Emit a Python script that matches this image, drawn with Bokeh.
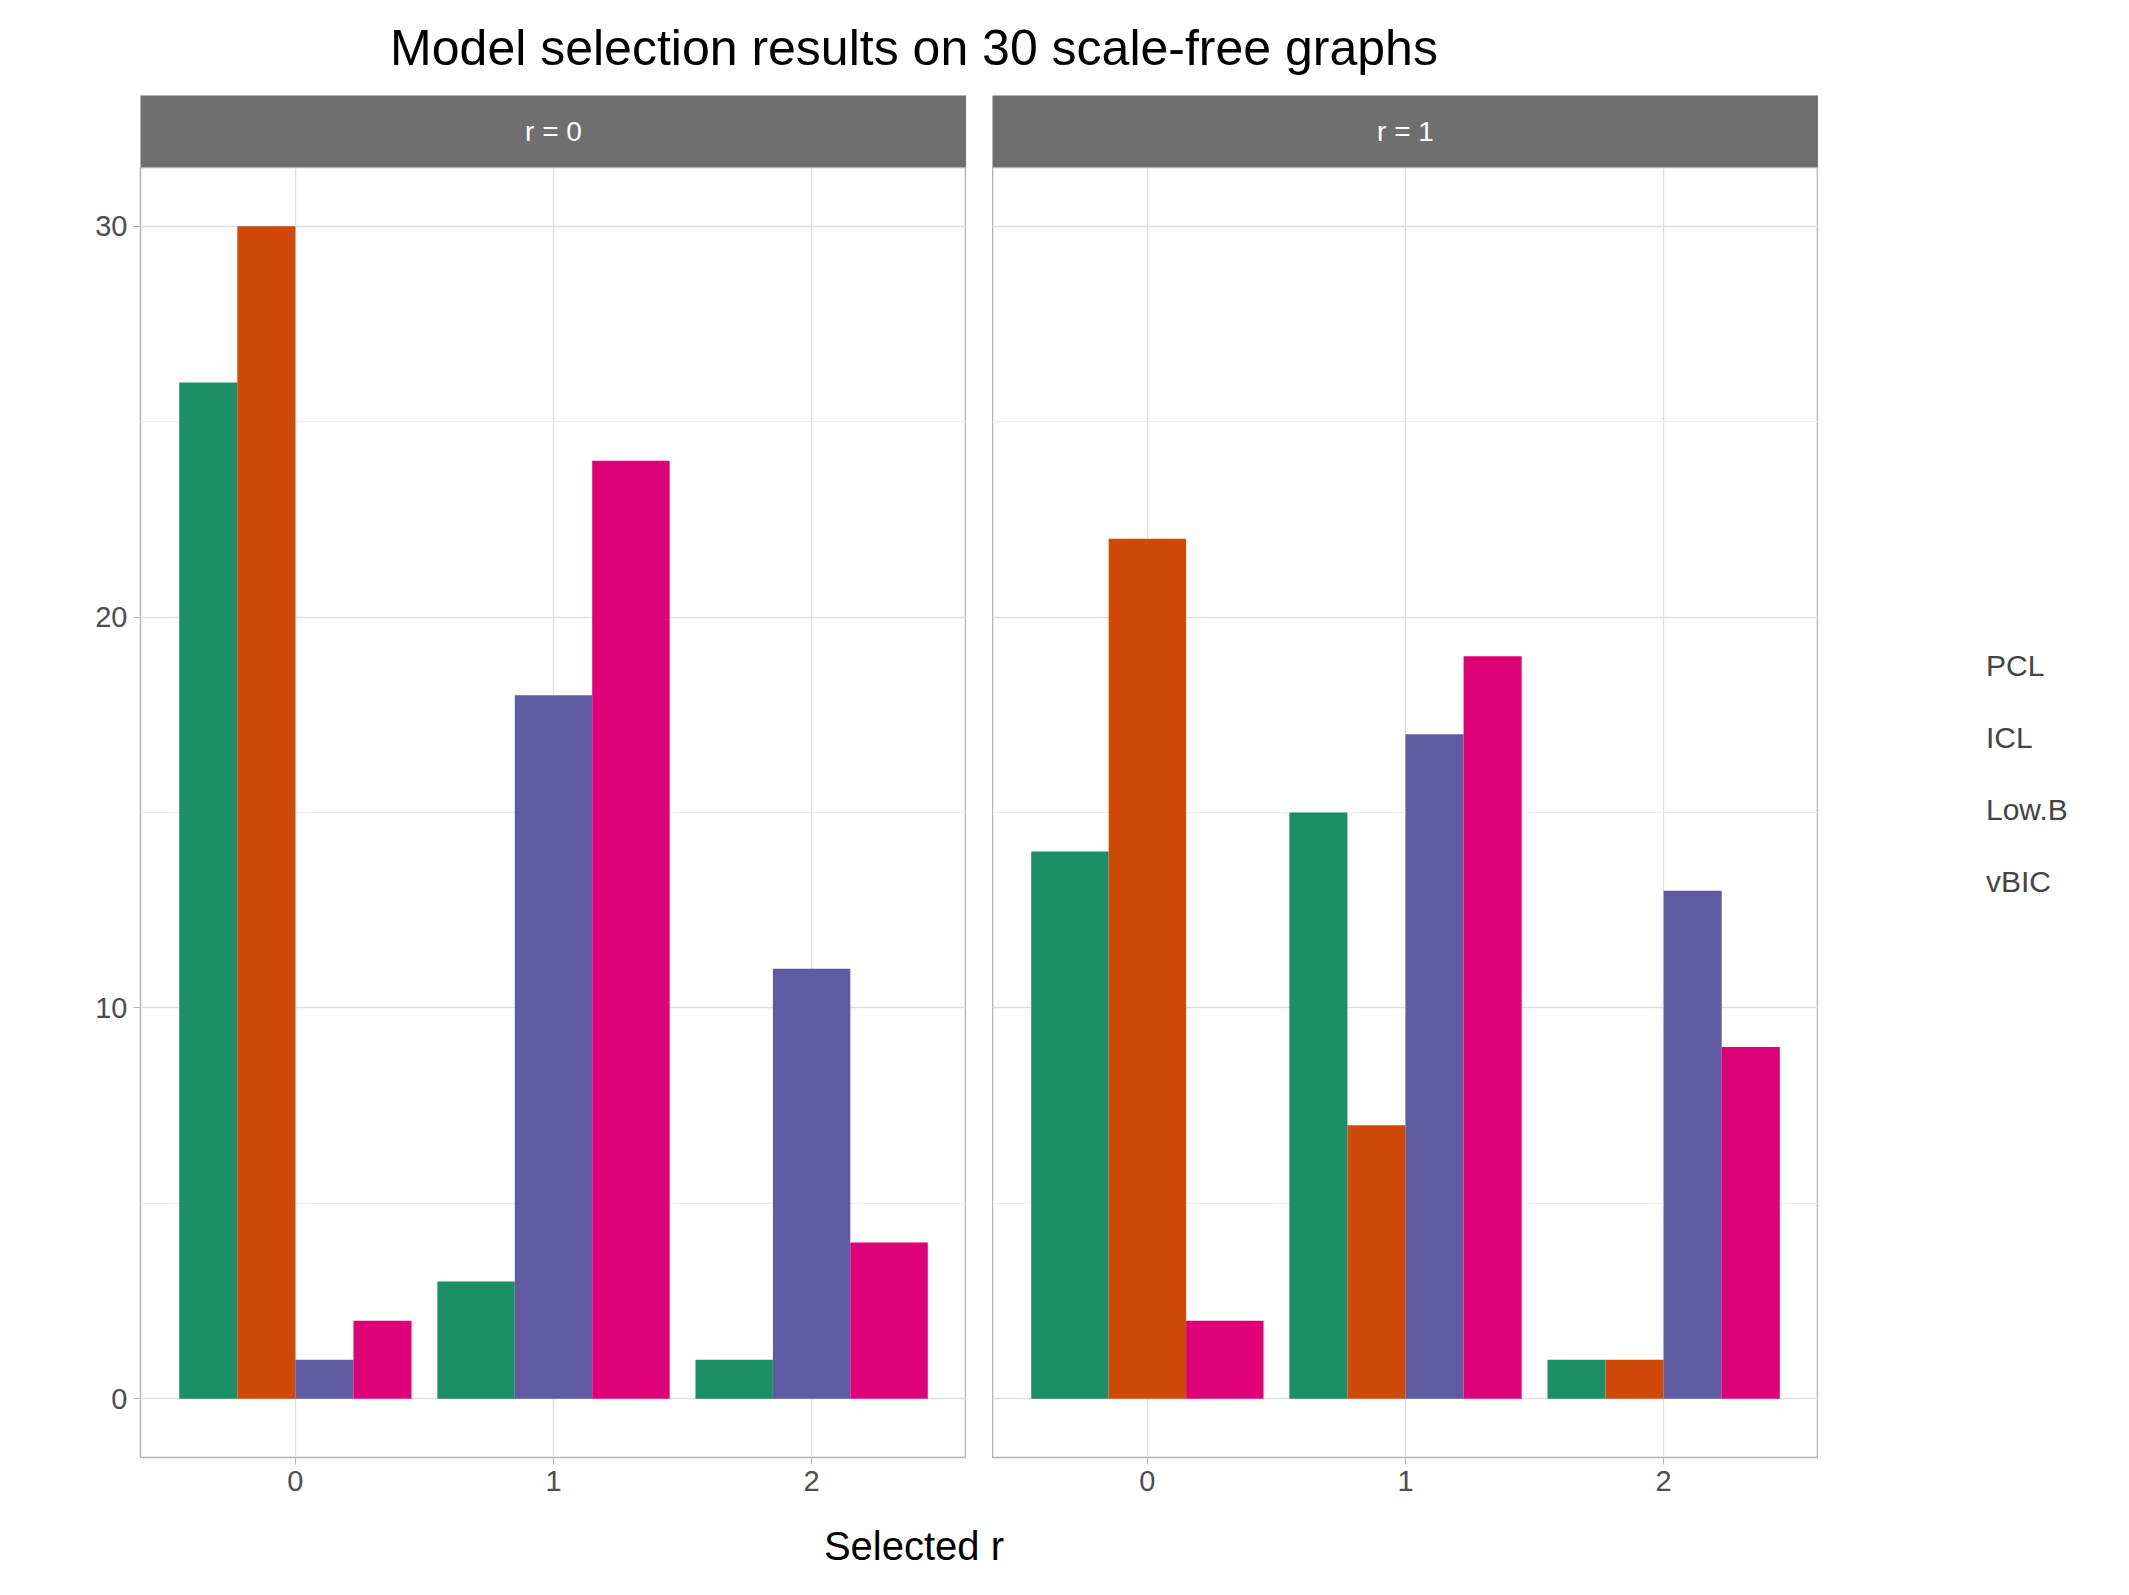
from bokeh.plotting import figure
from bokeh.models import Div, SingleIntervalTicker, FixedTicker, Legend, LegendItem, Range1d
from bokeh.layouts import row, column
from bokeh.embed import file_html
from bokeh.resources import INLINE
from bokeh.core.properties import value

methods = ["PCL", "ICL", "Low.B", "vBIC"]
colors = ["#1B8F66", "#CF4A08", "#605AA3", "#DE0077"]
selected = [0, 1, 2]
panels = ["r = 0", "r = 1"]
# counts[panel][method] per selected r (0 = bar absent)
counts = {
    "r = 0": {"PCL": [26, 3, 1], "ICL": [30, 0, 0], "Low.B": [1, 18, 11], "vBIC": [2, 24, 4]},
    "r = 1": {"PCL": [14, 15, 1], "ICL": [22, 7, 1], "Low.B": [0, 17, 13], "vBIC": [2, 19, 9]},
}

FONT = "Liberation Sans"
FW, FH = 826, 1290

def panel(name, left):
    p = figure(frame_width=FW, frame_height=FH, output_backend="svg", toolbar_location=None,
               x_range=Range1d(-0.6, 2.6), y_range=Range1d(-1.5, 31.5),
               min_border_left=140 if left else 0, min_border_right=0, min_border_top=0,
               min_border_bottom=55)
    p.outline_line_color = "#B3B3B3"
    p.outline_line_width = 1.5
    p.xaxis.ticker = FixedTicker(ticks=selected)
    p.yaxis.ticker = SingleIntervalTicker(interval=10, num_minor_ticks=2)
    for ax in (p.xaxis, p.yaxis):
        ax.axis_line_color = None
        ax.major_tick_line_color = "#B3B3B3"
        ax.major_tick_out = 7
        ax.major_tick_in = 0
        ax.minor_tick_line_color = None
        ax.major_label_text_font = FONT
        ax.major_label_text_font_size = "29px"
        ax.major_label_text_color = "#4D4D4D"
        ax.major_label_standoff = 6
    p.xgrid.grid_line_color = "#DEDEDE"
    p.ygrid.grid_line_color = "#DEDEDE"
    p.ygrid.minor_grid_line_color = "#EDEDED"
    p.xgrid.grid_line_width = 1.3
    p.ygrid.grid_line_width = 1.3
    if not left:
        p.yaxis.visible = False
    data = counts[name]
    for gi, xg in enumerate(selected):
        present = [m for m in methods if data[m][gi] > 0]
        w = 0.9 / len(present)
        for i, m in enumerate(present):
            cx = xg - 0.45 + w * (i + 0.5)
            p.vbar(x=[cx], width=w, top=[data[m][gi]], bottom=0,
                   fill_color=colors[methods.index(m)], line_color=None)
    return p

def strip(name, left):
    s = figure(frame_width=FW, frame_height=72, output_backend="svg", toolbar_location=None,
               x_range=Range1d(0, 1), y_range=Range1d(0, 1), x_axis_type=None, y_axis_type=None,
               min_border_left=140 if left else 0, min_border_right=0, min_border_top=0,
               min_border_bottom=0)
    s.background_fill_color = "#6F6F6F"
    s.outline_line_color = None
    s.xgrid.visible = False
    s.ygrid.visible = False
    s.text(x=[0.5], y=[0.5], text=[name], text_color="white", text_align="center",
           text_baseline="middle", text_font=value(FONT), text_font_size="28px")
    return s

p0 = panel("r = 0", True)
p1 = panel("r = 1", False)
s0 = strip("r = 0", True)
s1 = strip("r = 1", False)

lf = figure(width=270, height=72 + FH + 70, output_backend="svg", toolbar_location=None,
            x_range=Range1d(0, 1), y_range=Range1d(0, 1), x_axis_type=None, y_axis_type=None,
            min_border=0)
lf.outline_line_color = None
lf.xgrid.visible = False
lf.ygrid.visible = False
items = []
for m, c in zip(methods, colors):
    r = lf.vbar(x=[], width=0.1, top=[], fill_color=c, line_color=None)
    items.append(LegendItem(label=m, renderers=[r]))
leg = Legend(items=items, location=(50, 610), glyph_width=70, glyph_height=70,
             label_text_font=FONT, label_text_font_size="30px", label_standoff=22,
             spacing=2, padding=0, margin=0, border_line_color=None, label_height=70,
             background_fill_alpha=0)
lf.add_layout(leg)

title = Div(text='<div style="width:1818px;text-align:center;font-size:50px;font-family:Liberation Sans;color:black;padding-top:8px">Model selection results on 30 scale-free graphs</div>',
            width=1818, height=85)
xlab = Div(text='<div style="width:1818px;text-align:center;font-size:40px;font-family:Liberation Sans;color:black;margin-top:-14px">Selected r</div>',
           width=1818, height=50)

layout = column(title, row(column(s0, p0), column(s1, p1), lf, spacing=26), xlab)
open("out.html", "w").write(file_html(layout, INLINE))
